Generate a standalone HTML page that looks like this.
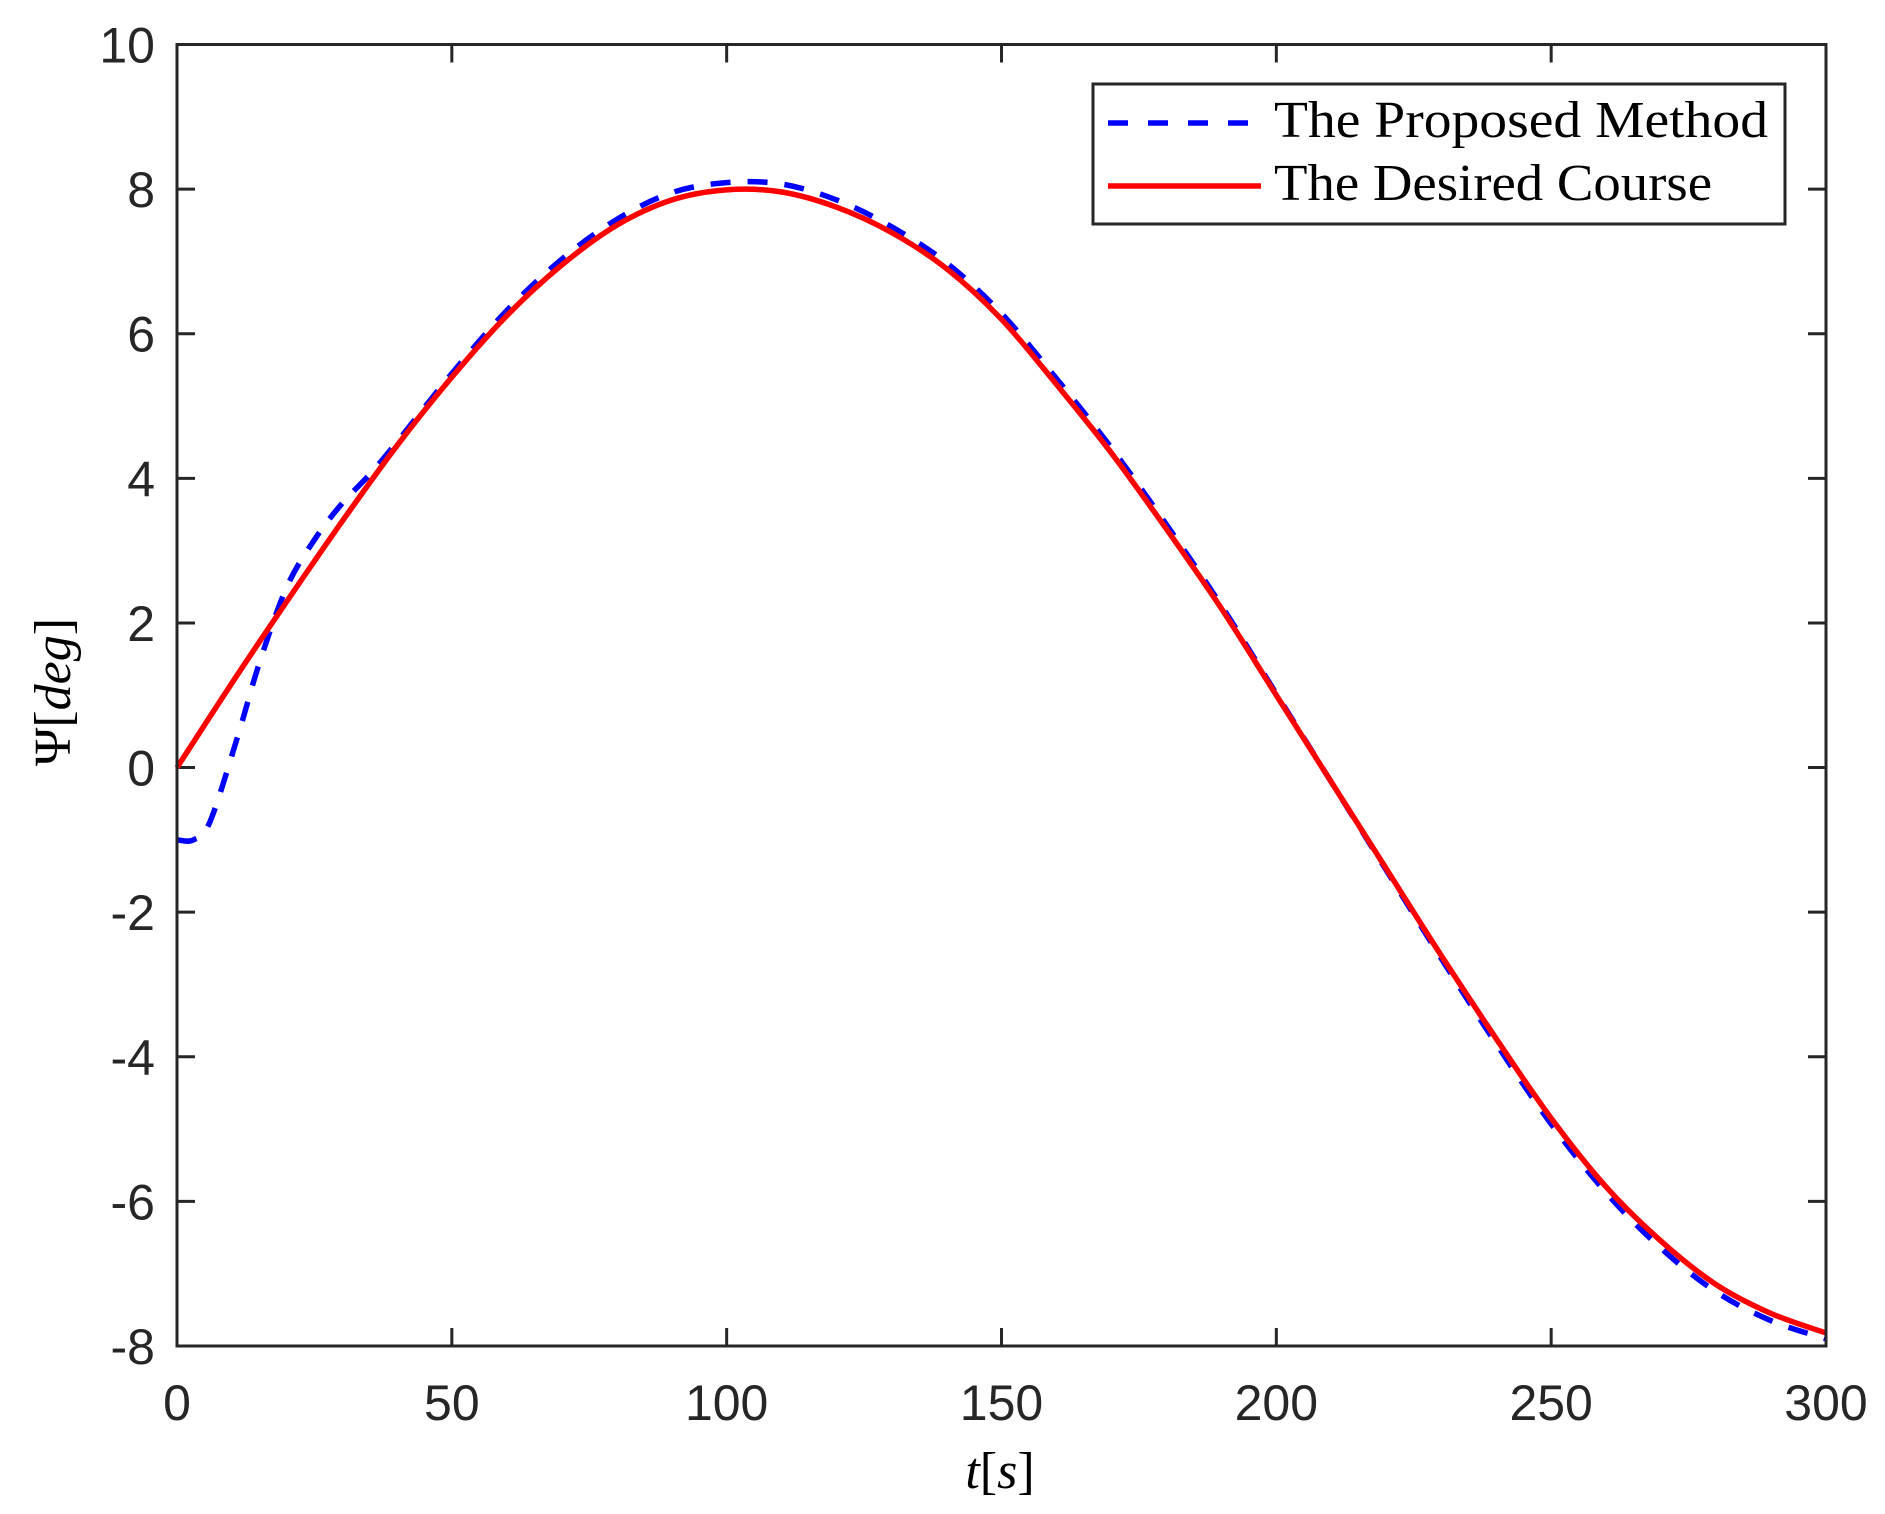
<!DOCTYPE html>
<html><head><meta charset="utf-8"><style>
html,body{margin:0;padding:0;background:#fff;}
svg{display:block;}
</style></head><body>
<svg id="chart" width="1885" height="1514" viewBox="0 0 1885 1514" xmlns="http://www.w3.org/2000/svg">
<rect width="1885" height="1514" fill="#fff"/>
<g id="plot"></g>
</svg>
<script>
const xTicks = [0, 50, 100, 150, 200, 250, 300];
const yTicks = [-8, -6, -4, -2, 0, 2, 4, 6, 8, 10];
const desiredT = [0, 10, 20, 30, 40, 50, 60, 70, 80, 90, 100, 110, 120, 130, 140, 150, 160, 170, 180, 190, 200, 210, 220, 230, 240, 250, 260, 270, 280, 290, 300];
const desiredV = [0, 1.17, 2.3, 3.4, 4.45, 5.4, 6.25, 6.95, 7.5, 7.85, 7.99, 7.96, 7.75, 7.4, 6.9, 6.2, 5.3, 4.35, 3.3, 2.2, 1.0, -0.2, -1.4, -2.6, -3.75, -4.85, -5.8, -6.55, -7.15, -7.55, -7.82];
const proposedT = [0, 3, 6, 11, 15, 20, 25, 30, 35, 40, 50, 60, 70, 80, 90, 100, 110, 120, 130, 140, 150, 160, 170, 180, 190, 200, 210, 220, 230, 240, 250, 260, 270, 280, 290, 300];
const proposedV = [-1, -1, -0.75, 0.42, 1.45, 2.5, 3.15, 3.65, 4.05, 4.5, 5.45, 6.32, 7.03, 7.58, 7.95, 8.09, 8.07, 7.85, 7.48, 6.98, 6.28, 5.38, 4.42, 3.36, 2.24, 1.02, -0.2, -1.42, -2.64, -3.82, -4.93, -5.88, -6.65, -7.25, -7.65, -7.9];

const L = 177, R = 1826, T = 44.5, B = 1346;
const xMin = 0, xMax = 300, yMin = -8, yMax = 10;
function sx(t){ return L + (t - xMin) / (xMax - xMin) * (R - L); }
function sy(v){ return B - (v - yMin) / (yMax - yMin) * (B - T); }
const NS = 'http://www.w3.org/2000/svg';
const plot = document.getElementById('plot');
function mk(tag, attrs, parent){
  const e = document.createElementNS(NS, tag);
  for (const k in attrs) e.setAttribute(k, attrs[k]);
  (parent || plot).appendChild(e);
  return e;
}
function smoothPath(ts, vs){
  const p = ts.map((t,i)=>[sx(t), sy(vs[i])]);
  let d = 'M' + p[0][0].toFixed(2) + ',' + p[0][1].toFixed(2);
  for (let i = 0; i < p.length - 1; i++){
    const p0 = p[Math.max(0,i-1)], p1 = p[i], p2 = p[i+1], p3 = p[Math.min(p.length-1,i+2)];
    const c1 = [p1[0] + (p2[0]-p0[0])/6, p1[1] + (p2[1]-p0[1])/6];
    const c2 = [p2[0] - (p3[0]-p1[0])/6, p2[1] - (p3[1]-p1[1])/6];
    d += ' C' + c1[0].toFixed(2) + ',' + c1[1].toFixed(2) + ' ' + c2[0].toFixed(2) + ',' + c2[1].toFixed(2) + ' ' + p2[0].toFixed(2) + ',' + p2[1].toFixed(2);
  }
  return d;
}
const font = '"Liberation Sans", Arial, sans-serif';
const serif = '"Liberation Serif", "Times New Roman", serif';

xTicks.forEach(v => {
  const x = sx(v);
  const t1 = mk('line', {x1:x, y1:B, x2:x, y2:B-18, stroke:'#262626', 'stroke-width':3});
  
  
  const t2 = mk('line', {x1:x, y1:T, x2:x, y2:T+18, stroke:'#262626', 'stroke-width':3});
  
  
  const lb = mk('text', {x:x, y:1420, 'text-anchor':'middle', 'font-family':font, 'font-size':50, fill:'#262626'});
  lb.textContent = String(v);
  
  
});
yTicks.forEach(v => {
  const y = sy(v);
  const t1 = mk('line', {x1:L, y1:y, x2:L+18, y2:y, stroke:'#262626', 'stroke-width':3});
  
  
  const t2 = mk('line', {x1:R, y1:y, x2:R-18, y2:y, stroke:'#262626', 'stroke-width':3});
  
  
  const lb = mk('text', {x:155, y:y+18, 'text-anchor':'end', 'font-family':font, 'font-size':50, fill:'#262626'});
  lb.textContent = String(v);
  
  
});

const dp = mk('path', {d:smoothPath(proposedT, proposedV), fill:'none', stroke:'#0000ff', 'stroke-width':5.5, 'stroke-dasharray':'20 17'});


const dd = mk('path', {d:smoothPath(desiredT, desiredV), fill:'none', stroke:'#ff0000', 'stroke-width':5.5, 'stroke-linejoin':'round'});



const box = mk('rect', {x:L, y:T, width:R-L, height:B-T, fill:'none', stroke:'#262626', 'stroke-width':3});



const xt = mk('text', {x:1000, y:1488, 'text-anchor':'middle', 'font-family':serif, 'font-size':52, fill:'#000'});
xt.innerHTML = '<tspan font-style="italic">t</tspan>[<tspan font-style="italic">s</tspan>]';


const yt = mk('text', {x:0, y:0, 'text-anchor':'middle', 'font-family':serif, 'font-size':52, fill:'#000', transform:'translate(70,692) rotate(-90)'});
yt.innerHTML = 'Ψ[<tspan font-style="italic">deg</tspan>]';



const lg = mk('g', {});


const lgb = mk('rect', {x:1093, y:84, width:692, height:140, fill:'#fff', stroke:'#262626', 'stroke-width':3}, lg);


const l1 = mk('line', {x1:1108, y1:123, x2:1250, y2:123, stroke:'#0000ff', 'stroke-width':5.5, 'stroke-dasharray':'20 20'}, lg);


const l2 = mk('line', {x1:1108, y1:186, x2:1261, y2:186, stroke:'#ff0000', 'stroke-width':5.5}, lg);


const lt1 = mk('text', {x:1274, y:137, 'font-family':serif, 'font-size':52, fill:'#000', textLength:494, lengthAdjust:'spacingAndGlyphs'}, lg);
lt1.textContent = 'The Proposed Method';


const lt2 = mk('text', {x:1274, y:200, 'font-family':serif, 'font-size':52, fill:'#000', textLength:438, lengthAdjust:'spacingAndGlyphs'}, lg);
lt2.textContent = 'The Desired Course';


</script>
</body></html>
